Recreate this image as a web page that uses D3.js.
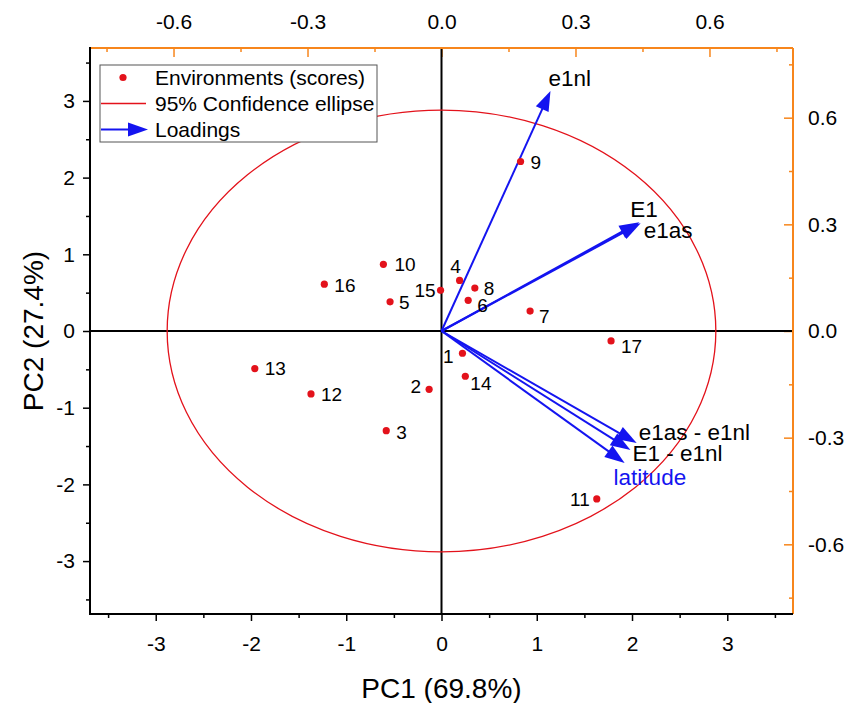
<!DOCTYPE html>
<html>
<head>
<meta charset="utf-8">
<script src="https://cdn.jsdelivr.net/npm/d3@7"></script>
<style>
  body { margin: 0; background: #fff; }
  svg text { font-family: "Liberation Sans", Arial, sans-serif; fill: #000; }
</style>
</head>
<body>
<div class="chart"></div>
<script>
// score data (PC1 / PC2)
var envNames = ["1", "2", "3", "4", "5", "6", "7", "8", "9", "10", "11", "12", "13", "14", "15", "16", "17"];
var envPC1 = [0.22, -0.13, -0.58, 0.19, -0.54, 0.28, 0.93, 0.35, 0.83, -0.61, 1.63, -1.37, -1.96, 0.25, -0.01, -1.23, 1.78];
var envPC2 = [-0.29, -0.76, -1.30, 0.66, 0.38, 0.40, 0.26, 0.56, 2.21, 0.87, -2.19, -0.82, -0.49, -0.59, 0.53, 0.61, -0.13];

// loadings (top / right axes)
var loadNames = ["e1nl", "E1", "e1as", "e1as - e1nl", "E1 - e1nl", "latitude"];
var loadX = [0.244, 0.443, 0.446, 0.437, 0.423, 0.410];
var loadY = [0.675, 0.306, 0.303, -0.315, -0.335, -0.371];

var ellipseRadius = [2.88, 2.88];

var scoreTicks = [-3, -2, -1, 0, 1, 2, 3];
var scoreMinor = [-3.5, -2.5, -1.5, -0.5, 0.5, 1.5, 2.5, 3.5];
var loadTicks = [-0.6, -0.3, 0, 0.3, 0.6];
var loadMinor = [-0.75, -0.45, -0.15, 0.15, 0.45, 0.75];

var legendItems = ["Environments (scores)", "95% Confidence ellipse", "Loadings"];

// label placement (px): [dx, dy, anchor]
var envLabelPos = [[-9, 3, "end"], [-8, -3, "end"], [10, 2, "start"], [-4, -14, "middle"], [9, 1, "start"],
  [9, 5, "start"], [9, 5, "start"], [9, 0, "start"], [10, 1, "start"], [11, 0, "start"], [-7, 1, "end"],
  [10, 1, "start"], [10, 0, "start"], [5, 7, "start"], [-5, 0, "end"], [10, 1, "start"], [10, 6, "start"]];
var loadLabelPos = [[-2, -13], [-9, -13], [3, 7], [2, -10], [2, 3], [-11, 15]];

var svgWidth = 859, svgHeight = 703;
var mLeft = 90, mRight = 793, mTop = 48, mBottom = 614;
var orange = "#f7861c", red = "#e3121b", blue = "#1414f0";

var svg = d3.select(".chart").append("svg")
    .attr("width", svgWidth)
    .attr("height", svgHeight);

var x = d3.scaleLinear().domain([-3.69, 3.69]).range([mLeft, mRight]);
var y = d3.scaleLinear().domain([-3.69, 3.69]).range([mBottom, mTop]);
var x2 = d3.scaleLinear().domain([-0.787, 0.787]).range([mLeft, mRight]);
var y2 = d3.scaleLinear().domain([-0.796, 0.796]).range([mBottom, mTop]);

var intFmt = d => String(d);
var decFmt = d => d.toFixed(1);

function styleAxis(g, color, size) {
    g.select(".domain").remove();
    g.selectAll("line").attr("stroke", color).attr("stroke-width", 1.5);
    g.selectAll("text").attr("font-size", size).attr("fill", "#000");
}

// bottom axis
svg.append("g").attr("transform", `translate(0,${mBottom})`)
    .call(d3.axisBottom(x).tickValues(scoreTicks).tickSize(7).tickPadding(15).tickFormat(intFmt))
    .call(g => styleAxis(g, "#000", 21));
svg.append("g").attr("transform", `translate(0,${mBottom})`)
    .call(d3.axisBottom(x).tickValues(scoreMinor).tickSize(4).tickFormat(""))
    .call(g => styleAxis(g, "#000", 21));

// left axis
svg.append("g").attr("transform", `translate(${mLeft},0)`)
    .call(d3.axisLeft(y).tickValues(scoreTicks).tickSize(7).tickPadding(8).tickFormat(intFmt))
    .call(g => styleAxis(g, "#000", 21));
svg.append("g").attr("transform", `translate(${mLeft},0)`)
    .call(d3.axisLeft(y).tickValues(scoreMinor).tickSize(4).tickFormat(""))
    .call(g => styleAxis(g, "#000", 21));

// top axis (inward ticks)
svg.append("g").attr("transform", `translate(0,${mTop})`)
    .call(d3.axisTop(x2).tickValues(loadTicks).tickSize(-9).tickPadding(19).tickFormat(decFmt))
    .call(g => styleAxis(g, orange, 21));
svg.append("g").attr("transform", `translate(0,${mTop})`)
    .call(d3.axisTop(x2).tickValues(loadMinor).tickSize(-4).tickFormat(""))
    .call(g => styleAxis(g, orange, 21));

// right axis (inward ticks)
svg.append("g").attr("transform", `translate(${mRight},0)`)
    .call(d3.axisRight(y2).tickValues(loadTicks).tickSize(-9).tickPadding(15).tickFormat(decFmt))
    .call(g => styleAxis(g, orange, 21));
svg.append("g").attr("transform", `translate(${mRight},0)`)
    .call(d3.axisRight(y2).tickValues(loadMinor).tickSize(-4).tickFormat(""))
    .call(g => styleAxis(g, orange, 21));

// zero lines
svg.append("line").attr("x1", x(0)).attr("x2", x(0)).attr("y1", mTop).attr("y2", mBottom)
    .attr("stroke", "#000").attr("stroke-width", 2);
svg.append("line").attr("x1", mLeft).attr("x2", mRight).attr("y1", y(0)).attr("y2", y(0))
    .attr("stroke", "#000").attr("stroke-width", 2);

// frame
svg.append("line").attr("x1", mLeft).attr("x2", mRight).attr("y1", mTop).attr("y2", mTop)
    .attr("stroke", orange).attr("stroke-width", 2);
svg.append("line").attr("x1", mRight).attr("x2", mRight).attr("y1", mTop).attr("y2", mBottom)
    .attr("stroke", orange).attr("stroke-width", 2);
svg.append("line").attr("x1", mLeft).attr("x2", mLeft).attr("y1", mTop - 1).attr("y2", mBottom + 1)
    .attr("stroke", "#000").attr("stroke-width", 2);
svg.append("line").attr("x1", mLeft - 1).attr("x2", mRight).attr("y1", mBottom).attr("y2", mBottom)
    .attr("stroke", "#000").attr("stroke-width", 2);

// confidence ellipse
svg.append("ellipse")
    .attr("cx", x(0)).attr("cy", y(0))
    .attr("rx", x(ellipseRadius[0]) - x(0))
    .attr("ry", y(0) - y(ellipseRadius[1]))
    .attr("fill", "none").attr("stroke", red).attr("stroke-width", 1.3);

// arrows
function arrowHead(x0, y0, x1, y1, len, half) {
    var a = Math.atan2(y1 - y0, x1 - x0);
    var bx = x1 - len * Math.cos(a), by = y1 - len * Math.sin(a);
    var px = -Math.sin(a) * half, py = Math.cos(a) * half;
    return `M${x1},${y1}L${bx + px},${by + py}L${bx - px},${by - py}Z`;
}

var arrows = svg.append("g");
loadNames.forEach(function (name, i) {
    var tx = x2(loadX[i]), ty = y2(loadY[i]);
    var a = Math.atan2(ty - y2(0), tx - x2(0));
    arrows.append("line")
        .attr("x1", x2(0)).attr("y1", y2(0))
        .attr("x2", tx - 12 * Math.cos(a)).attr("y2", ty - 12 * Math.sin(a))
        .attr("stroke", blue).attr("stroke-width", 2);
    arrows.append("path")
        .attr("d", arrowHead(x2(0), y2(0), tx, ty, 20, 7))
        .attr("fill", blue);
});

loadNames.forEach(function (name, i) {
    svg.append("text")
        .attr("x", x2(loadX[i]) + loadLabelPos[i][0])
        .attr("y", y2(loadY[i]) + loadLabelPos[i][1])
        .attr("dominant-baseline", "central")
        .attr("font-size", 22.5)
        .style("fill", name === "latitude" ? blue : "#000")
        .text(name);
});

// score points
svg.append("g").selectAll("circle")
    .data(envNames)
    .enter()
    .append("circle")
    .attr("cx", (d, i) => x(envPC1[i]))
    .attr("cy", (d, i) => y(envPC2[i]))
    .attr("r", 3.6)
    .attr("fill", red);

svg.append("g").selectAll("text")
    .data(envNames)
    .enter()
    .append("text")
    .attr("x", (d, i) => x(envPC1[i]) + envLabelPos[i][0])
    .attr("y", (d, i) => y(envPC2[i]) + envLabelPos[i][1])
    .attr("text-anchor", (d, i) => envLabelPos[i][2])
    .attr("dominant-baseline", "central")
    .attr("font-size", 19)
    .text(d => d);

// legend
var legend = svg.append("g").attr("transform", "translate(100,65)");
legend.append("rect")
    .attr("width", 277).attr("height", 77)
    .attr("fill", "#fff").attr("stroke", "#555").attr("stroke-width", 1);
legendItems.forEach(function (label, i) {
    var ly = 12.5 + i * 26;
    if (i === 0) {
        legend.append("circle").attr("cx", 23).attr("cy", ly).attr("r", 3.6).attr("fill", red);
    } else if (i === 1) {
        legend.append("line").attr("x1", 1).attr("x2", 46).attr("y1", ly).attr("y2", ly)
            .attr("stroke", red).attr("stroke-width", 1.5);
    } else {
        legend.append("line").attr("x1", 1).attr("x2", 32).attr("y1", ly).attr("y2", ly)
            .attr("stroke", blue).attr("stroke-width", 2);
        legend.append("path").attr("d", arrowHead(0, ly, 48, ly, 20, 7)).attr("fill", blue);
    }
    legend.append("text")
        .attr("x", 55).attr("y", ly)
        .attr("dominant-baseline", "central")
        .attr("font-size", 21)
        .text(label);
});

// axis titles
svg.append("text")
    .attr("x", x(0)).attr("y", 688)
    .attr("text-anchor", "middle")
    .attr("dominant-baseline", "central")
    .attr("font-size", 28)
    .text("PC1 (69.8%)");

svg.append("text")
    .attr("transform", `translate(33,${y(0)}) rotate(-90)`)
    .attr("text-anchor", "middle")
    .attr("dominant-baseline", "central")
    .attr("font-size", 28)
    .text("PC2 (27.4%)");
</script>
</body>
</html>
